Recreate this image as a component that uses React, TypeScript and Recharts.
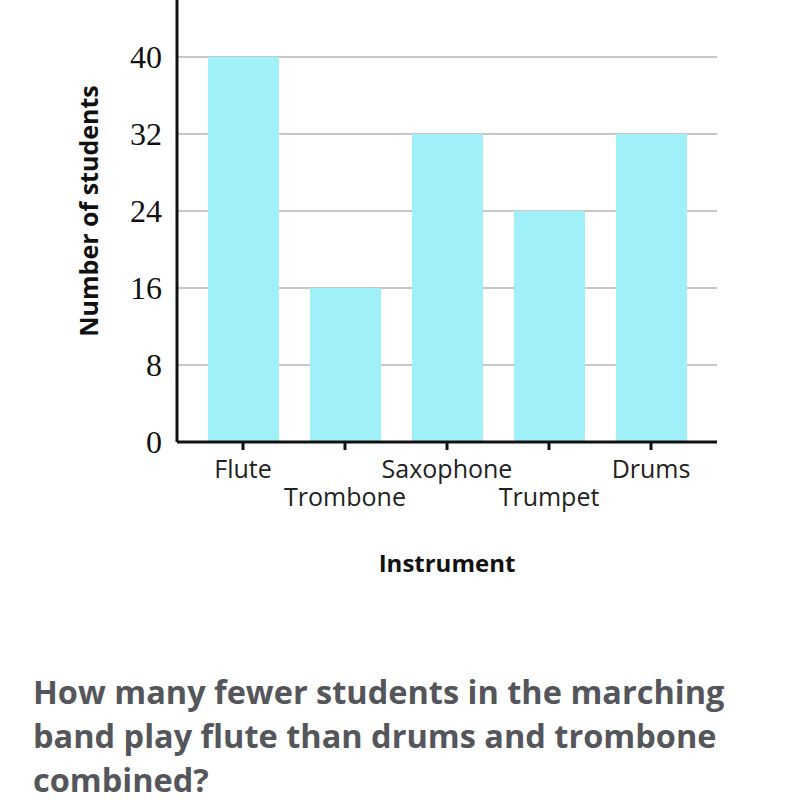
import React from "react";
import { BarChart, Bar, XAxis, YAxis, CartesianGrid, Label } from "recharts";

const instruments = ["Flute", "Trombone", "Saxophone", "Trumpet", "Drums"];
const students = [40, 16, 32, 24, 32];
const yTicks = [0, 8, 16, 24, 32, 40];
const questionLines = [
  "How many fewer students in the marching",
  "band play flute than drums and trombone",
  "combined?",
];

const data = instruments.map((name, i) => ({ name, students: students[i] }));

const sans = "'Open Sans', Lato, sans-serif";

function InstrumentTick(props: any) {
  const { x, y, payload, index } = props;
  const dy = index % 2 === 0 ? 26 : 54;
  return (
    <text x={x} y={y + dy} textAnchor="middle" fontFamily={sans} fontSize={25} fill="#222">
      {payload.value}
    </text>
  );
}

function YLabel(props: any) {
  const { viewBox } = props;
  const cx = viewBox.x + 88;
  const cy = viewBox.y + viewBox.height / 2;
  return (
    <text
      x={cx}
      y={cy}
      transform={`rotate(-90, ${cx}, ${cy})`}
      textAnchor="middle"
      dominantBaseline="central"
      fontFamily={sans}
      fontWeight={700}
      fontSize={25}
      fill="#111"
    >
      Number of students
    </text>
  );
}

export default function App() {
  return (
    <div style={{ position: "absolute", left: 0, top: 0, width: 800, height: 800, overflow: "hidden" }}>
      <div style={{ position: "absolute", left: 0, top: -20 }}>
        <BarChart
          width={800}
          height={620}
          data={data}
          margin={{ top: 0, right: 83, bottom: 18, left: 0 }}
        >
          <CartesianGrid vertical={false} stroke="#b5b5b5" strokeWidth={1.5} />
          <XAxis
            dataKey="name"
            height={140}
            padding={{ left: 15, right: 15 }}
            stroke="#111"
            strokeWidth={3}
            tickSize={8}
            tickLine={{ stroke: "#111", strokeWidth: 3 }}
            interval={0}
            tick={<InstrumentTick />}
          >
            <Label
              value="Instrument"
              position="insideBottom"
              offset={10}
              style={{ fontFamily: sans, fontWeight: 700, fontSize: 24, fill: "#111" }}
            />
          </XAxis>
          <YAxis
            width={177}
            domain={[0, 48]}
            ticks={yTicks}
            stroke="#111"
            strokeWidth={3}
            tickLine={false}
            tickSize={0}
            tickMargin={15}
            tick={{ fontFamily: "'Liberation Serif', serif", fontSize: 32, fill: "#111" }}
          >
            <Label content={<YLabel />} />
          </YAxis>
          <Bar dataKey="students" fill="#a0f0f9" barSize={71} isAnimationActive={false} />
        </BarChart>
      </div>
      <div
        style={{
          position: "absolute",
          left: 33,
          top: 670,
          width: 760,
          fontFamily: sans,
          fontWeight: 700,
          fontSize: 32.5,
          lineHeight: "44px",
          color: "#55565b",
        }}
      >
        {questionLines.map((line) => (
          <div key={line}>{line}</div>
        ))}
      </div>
    </div>
  );
}
